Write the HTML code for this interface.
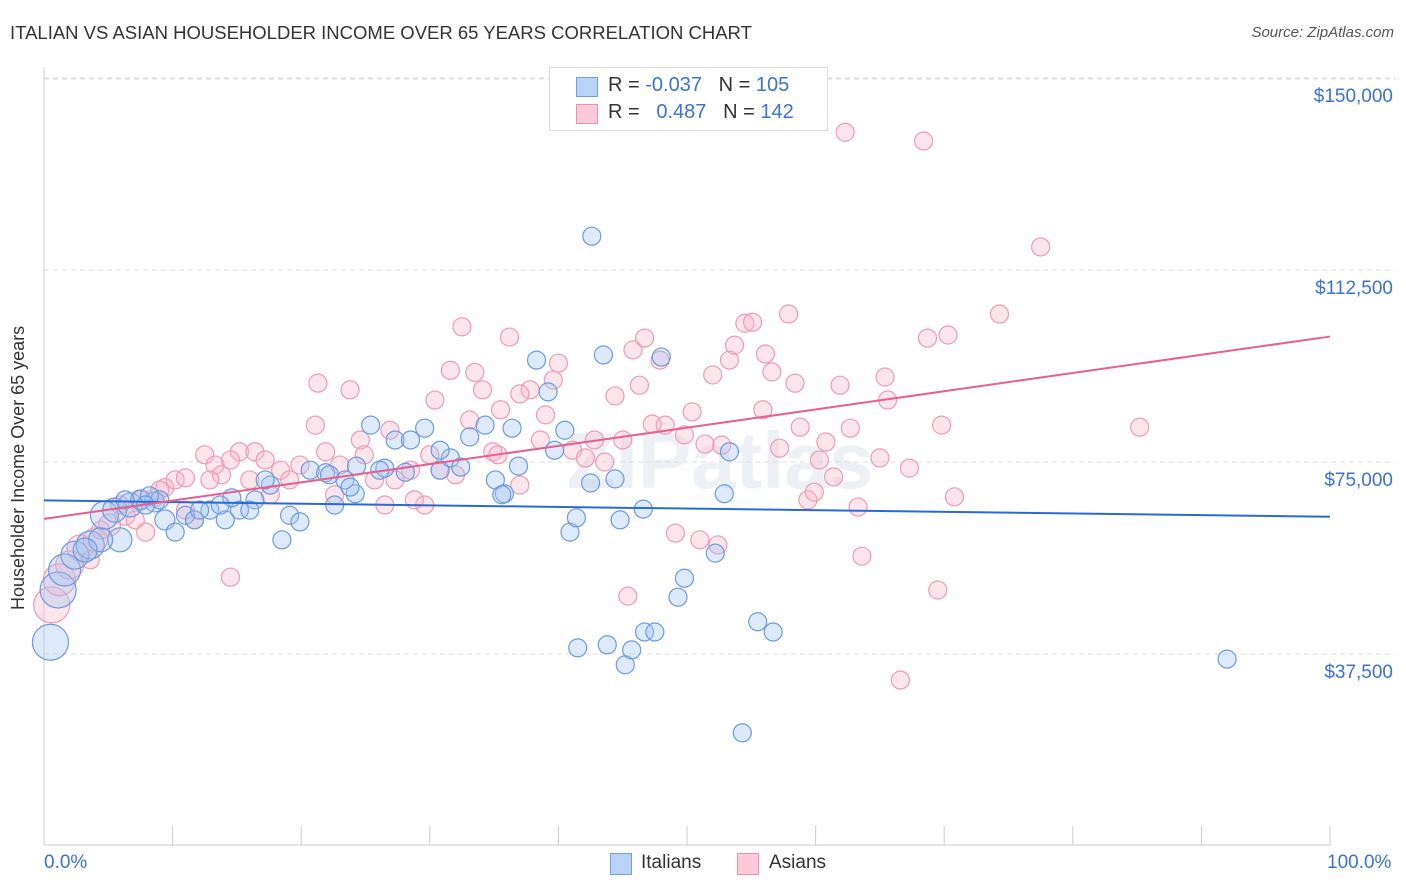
<!DOCTYPE html>
<html><head><meta charset="utf-8"><style>
body{margin:0;background:#fff;font-family:"Liberation Sans",sans-serif;}
#wrap{position:relative;width:1406px;height:892px;overflow:hidden;}
.t{position:absolute;white-space:nowrap;}
</style></head><body>
<div id="wrap">
<div class="t" style="left:10px;top:22px;font-size:18.5px;color:#333">ITALIAN VS ASIAN HOUSEHOLDER INCOME OVER 65 YEARS CORRELATION CHART</div>
<div class="t" style="right:12px;top:24px;font-size:15px;color:#555;font-style:italic">Source: ZipAtlas.com</div>
<div class="t" style="left:8px;top:610px;transform:rotate(-90deg);transform-origin:0 0;font-size:18px;color:#333">Householder Income Over 65 years</div>
<svg id="svg" width="1406" height="892" style="position:absolute;left:0;top:0"></svg>
<div style="position:absolute;left:549px;top:67px;width:277px;height:62px;border:1px solid #ddd;background:#fff">
<div style="position:absolute;left:26px;top:9px;width:20px;height:18px;background:#b8d3f5;border:1px solid #6f9fe0"></div>
<div style="position:absolute;left:26px;top:36px;width:20px;height:18px;background:#fbc9d8;border:1px solid #ec8fb0"></div>
<div class="t" style="left:58px;top:6px;font-size:20px;color:#333">R = <span style="color:#3a73d0">-0.037</span>&nbsp;&nbsp;&nbsp;N = <span style="color:#3a73d0">105</span></div>
<div class="t" style="left:58px;top:33px;font-size:20px;color:#333">R = &nbsp;&nbsp;<span style="color:#3a73d0">0.487</span>&nbsp;&nbsp;&nbsp;N = <span style="color:#3a73d0">142</span></div>
</div>
<div style="position:absolute;left:610px;top:853px;width:20px;height:20px;background:#b8d3f5;border:1px solid #6f9fe0"></div>
<div class="t" style="left:641px;top:852px;font-size:19px;color:#333">Italians</div>
<div style="position:absolute;left:737px;top:853px;width:20px;height:20px;background:#fbc9d8;border:1px solid #ec8fb0"></div>
<div class="t" style="left:769px;top:852px;font-size:19px;color:#333">Asians</div>
<div class="t" style="left:44px;top:852px;font-size:19px;color:#3a73d0">0.0%</div>
<div class="t" style="left:1327px;top:852px;font-size:19px;color:#3a73d0">100.0%</div>
</div>
<script>
const yTicks=[37500,75000,112500,150000];
const yTickLabels=["$37,500","$75,000","$112,500","$150,000"];
const bluePct=[0.5,1.1,1.6,2.4,3.6,4.7,5.5,6.7,7.5,8.6,9.4,10.2,11.0,11.7,12.9,14.1,15.2,16.4,17.6,18.5,19.1,19.9,20.7,21.9,22.6,23.4,24.2,25.4,26.5,27.3,28.5,29.6,30.8,31.6,32.4,33.1,34.3,35.1,35.8,36.4,36.9,38.3,39.2,39.7,40.5,40.9,41.4,42.6,42.5,43.5,44.4,44.8,45.2,45.7,46.7,47.5,48.0,49.3,49.8,52.2,52.9,53.3,54.3,55.5,56.7,92.0,41.5,43.8,46.6,35.6,30.8,28.1,26.1,24.3,22.2,23.8,17.2,16.0,14.6,13.7,12.1,9.0,8.2,7.9,6.3,5.9,4.4,3.2];
const blueVal=[39.8,50.0,53.9,56.8,58.8,64.6,65.6,66.6,67.6,67.2,63.7,61.3,64.6,63.7,65.6,63.7,65.6,67.6,70.5,59.8,64.6,63.3,73.4,72.9,66.6,71.5,68.8,82.2,73.8,79.3,79.3,81.6,73.4,75.8,74.0,79.9,82.2,71.5,68.8,81.6,74.2,94.9,88.7,77.3,81.2,61.3,64.1,119.1,70.9,95.9,71.7,63.7,35.4,38.3,41.8,41.8,95.5,48.6,52.3,57.2,68.8,77.0,22.1,43.8,41.8,36.5,38.7,39.3,65.8,68.6,77.3,73.0,73.4,74.2,72.5,70.1,71.5,65.6,68.0,66.6,65.6,67.6,68.4,66.6,67.6,59.8,59.8,57.8];
const blueSize=[18,18,16,14,14,14,12,12,10,10,10,9,9,9,9,9,9,9,9,9,9,9,9,9,9,9,9,9,9,9,9,9,9,9,9,9,9,9,9,9,9,9,9,9,9,9,9,9,9,9,9,9,9,9,9,9,9,9,9,9,9,9,9,9,9,9,9,9,9,9,9,9,9,9,9,9,9,9,9,9,9,9,9,9,9,12,12,12];
const pinkPct=[0.6,1.2,2.0,2.8,4.0,5.1,6.3,7.1,7.9,8.6,9.4,10.2,11.0,11.7,12.5,13.3,13.8,14.5,15.2,16.4,17.2,18.4,19.1,21.1,21.3,21.9,23.0,23.8,24.6,25.7,26.5,27.3,28.5,29.6,30.4,30.8,31.6,32.5,33.5,34.1,34.9,36.2,37.0,37.8,38.6,39.0,39.6,40.0,41.1,42.1,42.8,43.6,44.4,45.0,45.4,45.8,46.3,46.7,47.3,47.9,48.3,49.1,49.8,50.4,51.0,51.4,52.0,52.4,52.7,53.3,53.7,54.5,55.1,55.9,56.1,56.6,57.2,57.9,58.4,58.8,59.4,59.9,60.3,60.8,61.4,61.9,62.3,62.7,63.3,63.6,65.0,65.4,65.6,66.6,67.3,68.4,68.7,69.5,69.8,70.3,70.8,74.3,77.5,85.2,37.0,35.5,35.3,33.1,32.0,30.0,28.8,26.9,24.9,22.6,19.9,17.6,16.0,14.5,12.9,11.0,9.0,7.5,5.9,4.4,3.6];
const pinkVal=[47.1,52.0,54.9,58.2,59.8,62.7,64.6,63.7,61.3,68.0,70.0,71.5,71.9,63.7,76.4,74.4,72.5,52.5,77.0,77.0,75.4,73.4,71.5,82.2,90.4,77.0,74.4,89.1,79.3,71.5,66.6,71.5,73.4,66.6,87.1,73.4,92.9,101.4,92.5,89.1,77.0,99.4,70.5,89.1,79.3,84.2,91.0,94.3,77.3,75.8,79.3,75.0,87.9,79.3,48.8,96.9,90.0,99.2,82.4,94.9,82.2,61.1,80.3,84.8,59.8,78.5,92.0,58.8,78.3,94.9,97.8,102.1,102.3,85.2,96.1,92.6,77.7,103.9,90.4,81.8,67.6,69.1,75.4,78.9,72.1,90.0,139.4,81.6,66.2,56.6,75.8,91.6,87.1,32.4,73.8,137.7,99.2,50.0,82.2,99.8,68.2,103.9,117.0,81.8,88.3,85.2,76.4,83.2,72.5,76.4,67.6,81.2,76.4,68.6,74.4,68.6,71.5,75.4,71.5,65.6,69.5,67.6,66.6,61.7,55.9];
const pinkSize=[18,16,14,13,12,11,10,9,9,9,9,9,9,9,9,9,9,9,9,9,9,9,9,9,9,9,9,9,9,9,9,9,9,9,9,9,9,9,9,9,9,9,9,9,9,9,9,9,9,9,9,9,9,9,9,9,9,9,9,9,9,9,9,9,9,9,9,9,9,9,9,9,9,9,9,9,9,9,9,9,9,9,9,9,9,9,9,9,9,9,9,9,9,9,9,9,9,9,9,9,9,9,9,9,9,9,9,9,9,9,9,9,9,9,9,9,9,9,9,9,9,9,9,9,9];
const blueTrend=[67.5,64.3];
const pinkTrend=[63.9,99.5];

const NS="http://www.w3.org/2000/svg";
const svg=document.getElementById('svg');
const X0=44,X1=1330;
const xs=p=>X0+(X1-X0)*p/100;
const ys=v=>462-(v-75000)/37500*192;
function mk(tag,attrs,parent){const e=document.createElementNS(NS,tag);for(const k in attrs)e.setAttribute(k,attrs[k]);(parent||svg).appendChild(e);return e;}
const wm=mk('text',{x:720,y:488,'text-anchor':'middle','font-size':80,'font-weight':'bold',fill:'#edf0f5','font-family':'Liberation Sans, sans-serif'});
wm.textContent='ZIPatlas';


yTicks.forEach((v,i)=>{
 const g=mk('line',{x1:X0,x2:1395,y1:ys(v),y2:ys(v),stroke:'#ddd','stroke-dasharray':'5,4'});
 
 
 const t=mk('text',{x:1393,y:ys(v)+24,'text-anchor':'end','font-size':19,fill:'#3a73d0','font-family':'Liberation Sans, sans-serif'});
 t.textContent=yTickLabels[i];
 
 
});
const tg=mk('line',{x1:X0,x2:1395,y1:79,y2:79,stroke:'#ddd','stroke-dasharray':'5,4'});


const ya=mk('line',{x1:X0,x2:X0,y1:67,y2:845,stroke:'#ccc'});


const xa=mk('line',{x1:X0,x2:X1,y1:845,y2:845,stroke:'#ccc'});


for(let i=0;i<=10;i++){const tk=mk('line',{x1:xs(i*10),x2:xs(i*10),y1:826,y2:845,stroke:'#ccc'});
 
 }
function pts(P,V,S,fill,stroke,name){
 P.forEach((p,i)=>{const c=mk('circle',{cx:xs(p),cy:ys(V[i]*1000),r:S[i],fill:fill,stroke:stroke,'stroke-width':1.2});
  
  });
}
pts(pinkPct,pinkVal,pinkSize,'rgba(248,180,200,0.35)','#ee9ab8','asian-point');
pts(bluePct,blueVal,blueSize,'rgba(160,195,240,0.35)','#6a9be0','italian-point');
const bl=mk('line',{x1:xs(0),x2:xs(100),y1:ys(blueTrend[0]*1000),y2:ys(blueTrend[1]*1000),stroke:'#2a6ad6','stroke-width':2});


const pl=mk('line',{x1:xs(0),x2:xs(100),y1:ys(pinkTrend[0]*1000),y2:ys(pinkTrend[1]*1000),stroke:'#e8608e','stroke-width':2});


</script>
</body></html>
